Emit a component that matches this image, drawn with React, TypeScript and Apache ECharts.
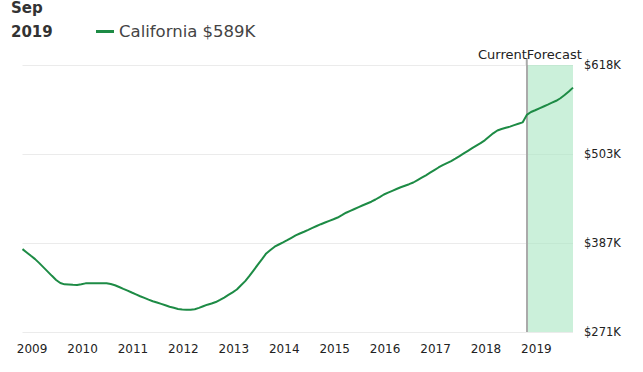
import React, { useEffect, useRef } from "react";
import * as echarts from "echarts";

// Monthly categories Oct 2008 .. Sep 2019
const months: string[] = [];
for (let k = 0; k < 132; k++) {
  const m = 9 + k;
  const y = 2008 + Math.floor(m / 12);
  const mm = (m % 12) + 1;
  months.push(`${y}-${String(mm).padStart(2, "0")}`);
}

// California median home value, $K
const californiaValues = [
  379.1, 374.8, 370.4, 366.1, 360.9, 355.4, 349.9, 344.4, 339.0, 335.1, 333.3, 333.0,
  332.7, 332.5, 333.4, 334.6, 334.7, 334.7, 334.7, 334.7, 334.7, 333.8, 332.2, 329.9,
  327.5, 325.2, 322.7, 320.3, 317.9, 315.7, 313.5, 311.4, 309.7, 307.9, 306.1, 304.3,
  302.9, 301.4, 300.6, 300.3, 300.3, 301.0, 302.7, 304.9, 306.9, 308.4, 310.3, 313.2,
  316.2, 319.6, 323.0, 326.6, 332.1, 337.5, 344.3, 351.6, 358.9, 366.1, 373.5, 378.0,
  382.3, 385.1, 387.8, 390.7, 393.8, 396.9, 399.4, 401.7, 404.1, 406.7, 409.2, 411.5,
  413.7, 415.9, 418.0, 420.2, 423.2, 426.4, 428.9, 431.3, 433.7, 436.1, 438.4, 440.7,
  443.6, 446.8, 450.1, 452.6, 454.9, 457.2, 459.5, 461.5, 463.5, 465.7, 468.8, 471.9,
  475.0, 478.4, 481.8, 485.2, 488.2, 490.9, 493.6, 496.8, 500.1, 503.5, 506.9, 510.3,
  513.6, 516.9, 520.5, 525.2, 529.6, 533.3, 535.2, 536.8, 538.3, 540.2, 542.0, 543.8,
  553.5, 557.3, 559.6, 562.1, 564.5, 566.9, 569.4, 571.9, 575.2, 579.4, 583.9, 589.0,
];

const seriesName = "California";
const legendLabel = "California $589K";
const headerMonth = "Sep";
const headerYear = "2019";
const currentMonth = "2018-10";
const lastMonth = "2019-09";
const yMin = 271.4;
const yMax = 618.4;
const yTickCount = 3;

const GREEN = "#1d8b45";
const FONT = "DejaVu Sans";

export default function App() {
  const ref = useRef<HTMLDivElement>(null);
  useEffect(() => {
    if (!ref.current) return;
    const chart = echarts.init(ref.current, undefined, { renderer: "svg" });
    chart.setOption({
      animation: false,
      backgroundColor: "#ffffff",
      textStyle: { fontFamily: FONT },
      title: [
        {
          text: headerMonth,
          left: 6,
          top: -5,
          textStyle: { fontFamily: FONT, fontSize: 15, fontWeight: "bold", color: "#333" },
        },
        {
          text: headerYear,
          left: 6,
          top: 19,
          textStyle: { fontFamily: FONT, fontSize: 15, fontWeight: "bold", color: "#333" },
        },
      ],
      legend: {
        data: [seriesName],
        left: 96,
        top: 23,
        padding: 0,
        icon: "rect",
        itemWidth: 18,
        itemHeight: 3,
        formatter: () => legendLabel,
        textStyle: { fontFamily: FONT, fontSize: 16.5, color: "#444" },
      },
      grid: { left: 22.5, right: 70, top: 65, bottom: 40 },
      xAxis: {
        type: "category",
        data: months,
        boundaryGap: false,
        axisLine: { show: false },
        axisTick: { show: false },
        splitLine: { show: false },
        axisLabel: {
          interval: (_i: number, v: string) => v.endsWith("-01"),
          formatter: (v: string) => v.slice(0, 4),
          fontFamily: FONT,
          fontSize: 12,
          color: "#222",
          margin: 11,
          padding: [0, 6, 0, 0],
        },
      },
      yAxis: {
        type: "value",
        position: "right",
        min: yMin,
        max: yMax,
        interval: (yMax - yMin) / yTickCount,
        axisLine: { show: false },
        axisTick: { show: false },
        splitLine: { lineStyle: { color: "#ebebeb", width: 1 } },
        axisLabel: {
          formatter: (v: number) => "$" + Math.round(v) + "K",
          fontFamily: FONT,
          fontSize: 11.5,
          color: "#222",
          margin: 11,
        },
      },
      series: [
        {
          name: seriesName,
          type: "line",
          data: californiaValues,
          showSymbol: false,
          symbol: "none",
          z: 3,
          lineStyle: { color: GREEN, width: 2 },
          itemStyle: { color: GREEN },
          markArea: {
            silent: true,
            z: 1,
            itemStyle: { color: "rgba(168,230,194,0.6)" },
            data: [[{ xAxis: currentMonth }, { xAxis: lastMonth }]],
          },
          markLine: {
            silent: true,
            z: 2,
            symbol: "none",
            lineStyle: { color: "#aaaaaa", width: 2, type: "solid" },
            label: {
              position: "end",
              distance: 4,
              fontFamily: FONT,
              fontSize: 13,
              color: "#222",
            },
            data: [
              { xAxis: currentMonth, label: { formatter: "Current", align: "right" } },
              { xAxis: currentMonth, label: { formatter: "Forecast", align: "left" } },
            ],
          },
        },
      ],
    });
    const top = chart.convertToPixel({ xAxisIndex: 0, yAxisIndex: 0 }, [currentMonth, yMax]) as number[];
    if (top && isFinite(top[0])) {
      chart.setOption({
        graphic: [
          {
            type: "line",
            silent: true,
            shape: { x1: top[0], y1: top[1] - 7, x2: top[0], y2: top[1] },
            style: { stroke: "#aaaaaa", lineWidth: 2 },
          },
        ],
      });
    }
    return () => chart.dispose();
  }, []);
  return (
    <div
      ref={ref}
      style={{ position: "fixed", left: 0, top: 0, width: 643, height: 372 }}
    />
  );
}
